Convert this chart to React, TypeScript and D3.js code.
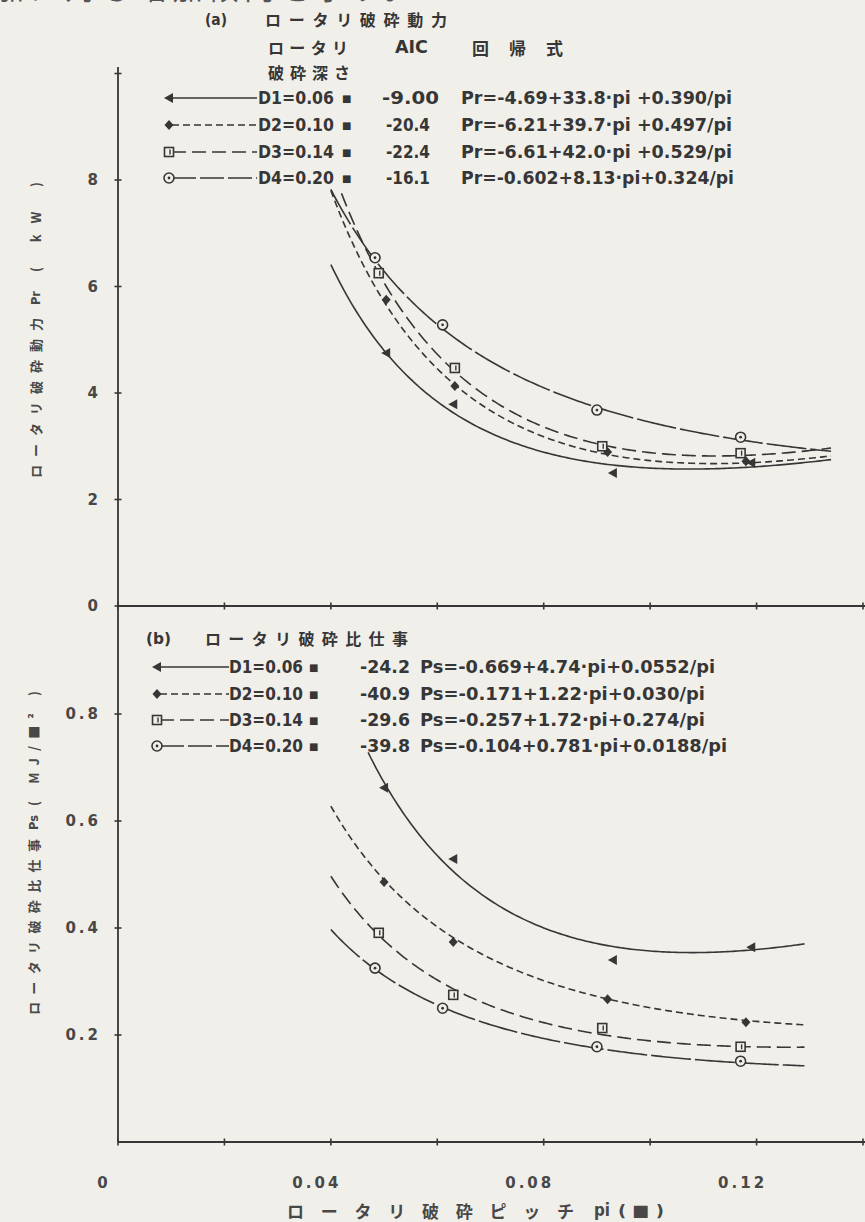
import { useEffect, useRef } from "react";
import * as d3 from "d3";

const W = 865, H = 1222;
const INK = "#363636";
const GREY = "#484848";
const PAPER = "#f1efea";
const LAT = "'Liberation Sans Narrow', 'DejaVu Sans Condensed', 'Liberation Sans', sans-serif";
const NUM = "'DejaVu Sans', sans-serif";
const JP = "'Noto Sans CJK JP', sans-serif";

// axis ticks / labels
const X_TICKS = [0, 0.02, 0.04, 0.06, 0.08, 0.1, 0.12, 0.14];
const X_LABEL_VALUES = [0, 0.04, 0.08, 0.12];
const X_LABEL_TEXT = ["0", "0.04", "0.08", "0.12"];
const PR_TICKS = [0, 2, 4, 6, 8, 10];
const PR_LABEL_VALUES = [0, 2, 4, 6, 8];
const PR_LABEL_TEXT = ["0", "2", "4", "6", "8"];
const PS_TICKS = [0.2, 0.4, 0.6, 0.8];
const PS_LABEL_TEXT = ["0.2", "0.4", "0.6", "0.8"];

// series
const DEPTH_TEXT = ["D1=0.06", "D2=0.10", "D3=0.14", "D4=0.20"];
const MARKERS = ["triangle", "diamond", "square", "circle"];
const DASHES = [null, "7,4", "14,6", "40,4"];

// (a) rotary power
const PR_AIC = ["-9.00", "-20.4", "-22.4", "-16.1"];
const PR_EQ = [
  "Pr=-4.69+33.8·pi +0.390/pi",
  "Pr=-6.21+39.7·pi +0.497/pi",
  "Pr=-6.61+42.0·pi +0.529/pi",
  "Pr=-0.602+8.13·pi+0.324/pi",
];
const PR_COEF = [[-4.69, 33.8, 0.39], [-6.21, 39.7, 0.497], [-6.61, 42.0, 0.529], [-0.602, 8.13, 0.324]];
const PR_SPAN = [[0.04, 0.134], [0.04, 0.134], [0.04, 0.134], [0.04, 0.134]];
const PR_CAP = 7.85; // curves stop just under the legend
const PR_POINTS = [
  [[0.0504, 4.75], [0.063, 3.79], [0.093, 2.5], [0.119, 2.69]],
  [[0.0504, 5.75], [0.0633, 4.13], [0.092, 2.89], [0.118, 2.72]],
  [[0.049, 6.25], [0.0633, 4.47], [0.091, 3.0], [0.117, 2.87]],
  [[0.0483, 6.54], [0.061, 5.28], [0.09, 3.68], [0.117, 3.17]],
];

// (b) rotary specific work
const PS_AIC = ["-24.2", "-40.9", "-29.6", "-39.8"];
const PS_EQ = [
  "Ps=-0.669+4.74·pi+0.0552/pi",
  "Ps=-0.171+1.22·pi+0.030/pi",
  "Ps=-0.257+1.72·pi+0.274/pi",
  "Ps=-0.104+0.781·pi+0.0188/pi",
];
const PS_EQ_LEN = [295, 285, 285, 307];
const PS_COEF = [[-0.669, 4.74, 0.0552], [-0.171, 1.22, 0.03], [-0.257, 1.72, 0.0274], [-0.104, 0.781, 0.0188]];
const PS_SPAN = [[0.047, 0.129], [0.04, 0.129], [0.04, 0.129], [0.04, 0.129]];
const PS_POINTS = [
  [[0.05, 0.662], [0.063, 0.529], [0.093, 0.34], [0.119, 0.364]],
  [[0.05, 0.486], [0.063, 0.374], [0.092, 0.267], [0.118, 0.224]],
  [[0.049, 0.391], [0.063, 0.275], [0.091, 0.213], [0.117, 0.178]],
  [[0.0483, 0.325], [0.061, 0.25], [0.09, 0.178], [0.117, 0.151]],
];

type Sel = d3.Selection<any, any, any, any>;

function put(parent: Sel, s: string, x: number, y: number, o: any = {}) {
  const t = parent.append("text")
    .attr("x", x).attr("y", y)
    .attr("dominant-baseline", "central")
    .attr("font-size", o.size ?? 17)
    .attr("font-family", o.family ?? LAT)
    .attr("font-weight", o.weight ?? "normal")
    .attr("fill", o.fill ?? INK)
    .attr("text-anchor", o.anchor ?? "start")
    .text(s);
  if (o.len) t.attr("textLength", o.len).attr("lengthAdjust", o.adjust ?? "spacingAndGlyphs");
  if (o.spacing) t.attr("letter-spacing", o.spacing);
  return t;
}

function marker(parent: Sel, kind: string, cx: number, cy: number) {
  if (kind === "triangle") {
    parent.append("path").attr("d", `M${cx - 5},${cy} L${cx + 4},${cy - 5} L${cx + 4},${cy + 5} Z`).attr("fill", INK);
  } else if (kind === "diamond") {
    parent.append("path").attr("d", `M${cx},${cy - 5} L${cx + 4.5},${cy} L${cx},${cy + 5} L${cx - 4.5},${cy} Z`).attr("fill", INK);
  } else if (kind === "square") {
    parent.append("rect").attr("x", cx - 4.5).attr("y", cy - 4.5).attr("width", 9).attr("height", 9)
      .attr("fill", PAPER).attr("stroke", INK).attr("stroke-width", 1.6);
    parent.append("line").attr("x1", cx + 1).attr("x2", cx + 1).attr("y1", cy - 2.5).attr("y2", cy + 2.5)
      .attr("stroke", INK).attr("stroke-width", 1.4);
  } else {
    parent.append("circle").attr("cx", cx).attr("cy", cy).attr("r", 5)
      .attr("fill", PAPER).attr("stroke", INK).attr("stroke-width", 1.6);
    parent.append("circle").attr("cx", cx).attr("cy", cy).attr("r", 1.4).attr("fill", INK);
  }
}

export default function App() {
  const ref = useRef<SVGSVGElement>(null);

  useEffect(() => {
    document.body.style.margin = "0";
    document.body.style.background = PAPER;

    const svg = d3.select(ref.current);
    svg.selectAll("*").remove();
    svg.append("rect").attr("width", W).attr("height", H).attr("fill", PAPER);

    const x = d3.scaleLinear().domain([0, 0.14]).range([118, 863]);
    const yPr = d3.scaleLinear().domain([0, 10]).range([606, 73.5]);
    const yPs = d3.scaleLinear().domain([0, 1]).range([1142, 607]);

    // cut-off line of body text at the very top (only its lower edge shows)
    put(svg, "加に対し増加傾向を示す。", -6, -14, { family: JP, size: 30, fill: "#555", len: 420, adjust: "spacing" });

    // ── axes ──
    const ax = svg.append("g").attr("stroke", INK).attr("stroke-width", 1.8);
    ax.append("line").attr("x1", x(0)).attr("x2", x(0)).attr("y1", yPr(10.12)).attr("y2", yPs(0));
    ax.append("line").attr("x1", x(0)).attr("x2", W).attr("y1", yPr(0)).attr("y2", yPr(0));
    ax.append("line").attr("x1", x(0)).attr("x2", W).attr("y1", yPs(0)).attr("y2", yPs(0));

    [yPr(0), yPs(0)].forEach(yy => {
      ax.selectAll(null).data(X_TICKS).join("line")
        .attr("x1", d => x(d)).attr("x2", d => x(d))
        .attr("y1", yy - 3.5).attr("y2", yy + 3.5).attr("stroke-width", 1.6);
    });
    ax.selectAll(null).data(PR_TICKS).join("line")
      .attr("x1", x(0) - 3.5).attr("x2", x(0) + 3.5)
      .attr("y1", d => yPr(d)).attr("y2", d => yPr(d)).attr("stroke-width", 1.6);
    ax.selectAll(null).data(PS_TICKS).join("line")
      .attr("x1", x(0) - 3.5).attr("x2", x(0) + 3.5)
      .attr("y1", d => yPs(d)).attr("y2", d => yPs(d)).attr("stroke-width", 1.6);

    // tick labels
    const num = { family: NUM, weight: "bold", size: 15, fill: GREY, spacing: 3 };
    X_LABEL_VALUES.forEach((v, i) => put(svg, X_LABEL_TEXT[i], x(v) - 14, 1183, { ...num, anchor: "middle" }));
    PR_LABEL_VALUES.forEach((v, i) => put(svg, PR_LABEL_TEXT[i], 101, yPr(v), { ...num, anchor: "end" }));
    PS_TICKS.forEach((v, i) => put(svg, PS_LABEL_TEXT[i], 101, yPs(v), { ...num, anchor: "end" }));

    // axis titles
    const jpT = { family: JP, weight: "bold", fill: GREY, adjust: "spacing" };
    put(svg, "ロータリ破砕ピッチ", 287, 1210, { ...jpT, size: 17, len: 287 });
    put(svg, "pi", 594, 1210, { size: 17, weight: "bold", fill: GREY, len: 16 });
    put(svg, "( ■ )", 618, 1210, { size: 16, weight: "bold", fill: GREY, len: 46 });

    // rotated: page (px, py) -> local (-py, px)
    const r1 = svg.append("g").attr("transform", "rotate(-90)");
    put(r1, "ロータリ破砕動力", -478, 35, { ...jpT, size: 13, len: 160 });
    put(r1, "Pr", -305, 35, { size: 13, weight: "bold", fill: GREY, len: 14 });
    put(r1, "( kW )", -272, 35, { family: JP, weight: "bold", size: 13, fill: GREY, len: 90, adjust: "spacing" });
    const r2 = svg.append("g").attr("transform", "rotate(-90)");
    put(r2, "ロータリ破砕比仕事", -1015, 33, { ...jpT, size: 13, len: 176 });
    put(r2, "Ps", -830, 33, { size: 13, weight: "bold", fill: GREY, len: 15 });
    put(r2, "( MJ/■² )", -806, 33, { family: JP, weight: "bold", size: 13, fill: GREY, len: 115, adjust: "spacing" });

    // ── curves + points ──
    const drawPanel = (yScale: any, coef: number[][], span: number[][], pts: number[][][], cap: number) => {
      const gp = svg.append("g");
      const line = d3.line<number[]>().x(d => x(d[0])).y(d => yScale(d[1]));
      coef.forEach((c, i) => {
        const fit = d3.range(span[i][0], span[i][1] + 1e-9, 0.0005)
          .map(p => [p, c[0] + c[1] * p + c[2] / p])
          .filter(d => d[1] <= cap);
        const path = gp.append("path").datum(fit).attr("d", line)
          .attr("fill", "none").attr("stroke", INK).attr("stroke-width", 1.6);
        if (DASHES[i]) path.attr("stroke-dasharray", DASHES[i]);
      });
      pts.forEach((ser, i) => ser.forEach(p => marker(gp, MARKERS[i], x(p[0]), yScale(p[1]))));
    };
    drawPanel(yPr, PR_COEF, PR_SPAN, PR_POINTS, PR_CAP);
    drawPanel(yPs, PS_COEF, PS_SPAN, PS_POINTS, 1);

    // ── legend (a) ──
    const la = svg.append("g");
    const lt = { size: 17, weight: "bold" };
    put(la, "(a)", 205, 19, { size: 16, len: 22, weight: "bold" });
    put(la, "ロータリ破砕動力", 265, 19, { family: JP, weight: "bold", size: 16, len: 182, adjust: "spacing" });
    put(la, "ロータリ", 268, 47, { family: JP, weight: "bold", size: 16, len: 80, adjust: "spacing" });
    put(la, "AIC", 395, 47, { ...lt, len: 33 });
    put(la, "回帰式", 472, 47, { family: JP, weight: "bold", size: 17, len: 91, adjust: "spacing" });
    put(la, "破砕深さ", 268, 72, { family: JP, weight: "bold", size: 16, len: 82, adjust: "spacing" });
    const rowA = [98, 125, 152, 178];
    rowA.forEach((ry, i) => {
      const l = la.append("line").attr("x1", 172).attr("x2", 257).attr("y1", ry).attr("y2", ry)
        .attr("stroke", INK).attr("stroke-width", 1.6);
      if (DASHES[i]) l.attr("stroke-dasharray", i === 3 ? "24,4" : DASHES[i]);
      marker(la, MARKERS[i], 169, ry);
      put(la, DEPTH_TEXT[i], 258, ry, { ...lt, len: 76 });
      put(la, "■", 342, ry, { size: 10, family: NUM });
      put(la, PR_AIC[i], i === 0 ? 382 : 386, ry, { ...lt, len: i === 0 ? 57 : 44 });
      put(la, PR_EQ[i], 461, ry, { ...lt, len: i === 3 ? 273 : 271 });
    });

    // ── legend (b) ──
    const lb = svg.append("g");
    put(lb, "(b)", 146, 638, { size: 16, len: 25, weight: "bold" });
    put(lb, "ロータリ破砕比仕事", 205, 638, { family: JP, weight: "bold", size: 16, len: 203, adjust: "spacing" });
    const rowB = [667, 694, 720, 746];
    rowB.forEach((ry, i) => {
      const l = lb.append("line").attr("x1", 160).attr("x2", 229).attr("y1", ry).attr("y2", ry)
        .attr("stroke", INK).attr("stroke-width", 1.6);
      if (DASHES[i]) l.attr("stroke-dasharray", i === 3 ? "24,4" : DASHES[i]);
      marker(lb, MARKERS[i], 157, ry);
      put(lb, DEPTH_TEXT[i], 229, ry, { ...lt, len: 74 });
      put(lb, "■", 309, ry, { size: 10, family: NUM });
      put(lb, PS_AIC[i], 360, ry, { ...lt, len: 50 });
      put(lb, PS_EQ[i], 420, ry, { ...lt, len: PS_EQ_LEN[i] });
    });
  }, []);

  return (
    <div style={{ width: W, height: H, background: PAPER, overflow: "hidden" }}>
      <svg ref={ref} width={W} height={H} style={{ display: "block" }} />
    </div>
  );
}
